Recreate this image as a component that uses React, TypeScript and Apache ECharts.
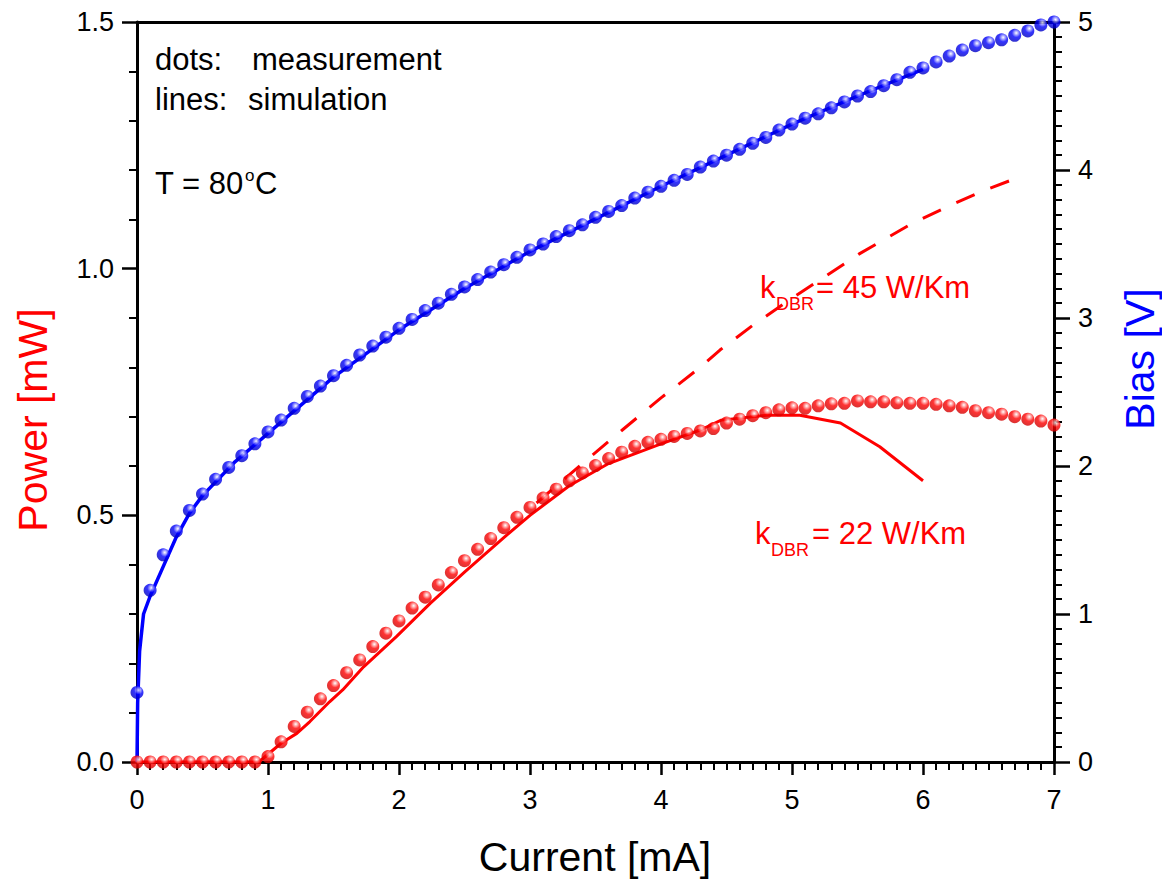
import React, { useEffect, useRef } from 'react';
import * as echarts from 'echarts';

const FONT = "'Liberation Sans', Arial, Helvetica, sans-serif";

// Current values of the measurement points [mA]
const measCurrent = [
  0.0, 0.1, 0.2, 0.3, 0.4, 0.5, 0.6, 0.7, 0.8, 0.9,
  1.0, 1.1, 1.2, 1.3, 1.4, 1.5, 1.6, 1.7, 1.8, 1.9,
  2.0, 2.1, 2.2, 2.3, 2.4, 2.5, 2.6, 2.7, 2.8, 2.9,
  3.0, 3.1, 3.2, 3.3, 3.4, 3.5, 3.6, 3.7, 3.8, 3.9,
  4.0, 4.1, 4.2, 4.3, 4.4, 4.5, 4.6, 4.7, 4.8, 4.9,
  5.0, 5.1, 5.2, 5.3, 5.4, 5.5, 5.6, 5.7, 5.8, 5.9,
  6.0, 6.1, 6.2, 6.3, 6.4, 6.5, 6.6, 6.7, 6.8, 6.9,
  7.0,
];

// Measured optical power [mW]
const measPower = [
  0, 0, 0, 0, 0, 0, 0, 0, 0, 0,
  0.011, 0.041, 0.072, 0.101, 0.128, 0.155, 0.181, 0.207, 0.234, 0.261,
  0.286, 0.312, 0.334, 0.359, 0.384, 0.408, 0.431, 0.453, 0.475, 0.496,
  0.516, 0.535, 0.553, 0.570, 0.586, 0.601, 0.615, 0.628, 0.640, 0.648,
  0.654, 0.660, 0.666, 0.671, 0.676, 0.687, 0.695, 0.702, 0.708, 0.714,
  0.718, 0.717, 0.722, 0.726, 0.727, 0.732, 0.730, 0.730, 0.728, 0.727,
  0.727, 0.725, 0.722, 0.719, 0.712, 0.708, 0.705, 0.700, 0.695, 0.691,
  0.683,
];

// Measured bias [V]
const measBias = [
  0.47, 1.16, 1.40, 1.56, 1.70, 1.81, 1.91, 1.99, 2.07, 2.15,
  2.23, 2.31, 2.39, 2.47, 2.54, 2.61, 2.68, 2.75, 2.81, 2.87,
  2.93, 2.99, 3.05, 3.10, 3.16, 3.21, 3.26, 3.31, 3.36, 3.41,
  3.46, 3.50, 3.55, 3.59, 3.63, 3.68, 3.72, 3.76, 3.81, 3.85,
  3.89, 3.93, 3.97, 4.02, 4.06, 4.10, 4.14, 4.18, 4.22, 4.27,
  4.31, 4.35, 4.38, 4.42, 4.46, 4.50, 4.53, 4.57, 4.61, 4.66,
  4.69, 4.73, 4.77, 4.81, 4.84, 4.86, 4.88, 4.91, 4.94, 4.98,
  5.00,
];

// Simulation, k_DBR = 22 W/Km (solid red)
const sim22Current = [0, 0.93, 1.1, 1.22, 1.32, 1.47, 1.57, 1.73, 1.98, 2.24, 2.5, 2.8, 3.0, 3.3, 3.6, 4.0, 4.3, 4.46, 4.81, 5.06, 5.37, 5.67, 6.0];
const sim22Power = [0, 0, 0.038, 0.058, 0.082, 0.122, 0.146, 0.193, 0.254, 0.322, 0.385, 0.455, 0.50, 0.56, 0.605, 0.645, 0.673, 0.693, 0.703, 0.703, 0.687, 0.639, 0.570];

// Simulation, k_DBR = 45 W/Km (dashed red)
const sim45Current = [3.05, 3.4, 3.7, 4.0, 4.3, 4.45, 4.7, 5.0, 5.52, 5.92, 6.19, 6.46, 6.69];
const sim45Power = [0.525, 0.605, 0.672, 0.738, 0.80, 0.835, 0.885, 0.94, 1.031, 1.092, 1.126, 1.158, 1.181];

// Simulated bias (solid blue)
const simBiasCurrent = [0, 0.005, 0.02, 0.05, 0.1, 0.2, 0.3, 0.4, 0.5, 0.75, 1.0, 1.5, 2.0, 2.5, 3.0, 3.5, 4.0, 4.5, 5.0, 5.5, 6.0];
const simBias = [0, 0.4, 0.75, 1.0, 1.12, 1.32, 1.52, 1.68, 1.80, 2.03, 2.22, 2.60, 2.92, 3.20, 3.45, 3.67, 3.89, 4.10, 4.31, 4.50, 4.68];

const xTicks = { min: 0, max: 7, interval: 1 };
const powerTicks = { min: 0, max: 1.5, interval: 0.5 };
const biasTicks = { min: 0, max: 5, interval: 1 };

const zip = (xs: number[], ys: number[]) => xs.map((x, i) => [x, ys[i]]);

const ball = (light: string, mid: string, dark: string) => ({
  type: 'radial',
  x: 0.62,
  y: 0.32,
  r: 0.75,
  colorStops: [
    { offset: 0, color: '#ffffff' },
    { offset: 0.18, color: light },
    { offset: 0.45, color: mid },
    { offset: 1, color: dark },
  ],
});

export default function App() {
  const ref = useRef<HTMLDivElement>(null);

  useEffect(() => {
    if (!ref.current) return;
    const chart = echarts.init(ref.current, null, { renderer: 'svg' });

    const axisLine = { show: true, onZero: false, lineStyle: { color: '#000', width: 3 } };
    const labelStyle = { color: '#000', fontSize: 27, fontFamily: FONT };

    const txt = (text: string, x: number, y: number, size: number, color = '#000', extra: any = {}) => ({
      type: 'text',
      x,
      y,
      z: 100,
      ...extra,
      style: {
        text,
        fill: color,
        fontSize: size,
        fontFamily: FONT,
        verticalAlign: 'middle',
        align: extra.align || 'left',
      },
    });

    const option: any = {
      animation: false,
      backgroundColor: '#ffffff',
      grid: { left: 137, right: 108, top: 22, bottom: 120, containLabel: false },
      xAxis: [
        {
          type: 'value',
          position: 'bottom',
          ...xTicks,
          axisLine,
          axisTick: { show: true, inside: false, length: 13, lineStyle: { color: '#000', width: 2.5 } },
          minorTick: { show: true, splitNumber: 10, length: 8, lineStyle: { color: '#000', width: 2 } },
          axisLabel: { ...labelStyle, margin: 24 },
          splitLine: { show: false },
          minorSplitLine: { show: false },
        },
        {
          type: 'value',
          position: 'top',
          ...xTicks,
          axisLine,
          axisTick: { show: false },
          axisLabel: { show: false },
          splitLine: { show: false },
        },
      ],
      yAxis: [
        {
          type: 'value',
          position: 'left',
          ...powerTicks,
          axisLine,
          axisTick: { show: true, inside: false, length: 15, lineStyle: { color: '#000', width: 2.5 } },
          minorTick: { show: true, splitNumber: 5, length: 8, lineStyle: { color: '#000', width: 2 } },
          axisLabel: { ...labelStyle, margin: 23, formatter: (v: number) => v.toFixed(1) },
          splitLine: { show: false },
          minorSplitLine: { show: false },
        },
        {
          type: 'value',
          position: 'right',
          ...biasTicks,
          axisLine,
          axisTick: { show: true, inside: false, length: 16, lineStyle: { color: '#000', width: 2.5 } },
          minorTick: { show: true, splitNumber: 10, length: 8, lineStyle: { color: '#000', width: 2 } },
          axisLabel: { ...labelStyle, margin: 24 },
          splitLine: { show: false },
          minorSplitLine: { show: false },
        },
      ],
      series: [
        {
          name: 'Bias simulation',
          type: 'line',
          yAxisIndex: 1,
          data: zip(simBiasCurrent, simBias),
          showSymbol: false,
          symbol: 'none',
          lineStyle: { color: '#0000ff', width: 3.5 },
          z: 2,
        },
        {
          name: 'k22 simulation',
          type: 'line',
          yAxisIndex: 0,
          data: zip(sim22Current, sim22Power),
          showSymbol: false,
          symbol: 'none',
          lineStyle: { color: '#ff0000', width: 3 },
          z: 2,
        },
        {
          name: 'k45 simulation',
          type: 'line',
          yAxisIndex: 0,
          data: zip(sim45Current, sim45Power),
          showSymbol: false,
          symbol: 'none',
          lineStyle: { color: '#ff0000', width: 3, type: [20, 17] },
          z: 2,
        },
        {
          name: 'Power measurement',
          type: 'scatter',
          yAxisIndex: 0,
          data: zip(measCurrent, measPower),
          symbol: 'circle',
          symbolSize: 13,
          itemStyle: { color: ball('#ff9a9a', '#ff0000', '#c80000') },
          z: 3,
        },
        {
          name: 'Bias measurement',
          type: 'scatter',
          yAxisIndex: 1,
          data: zip(measCurrent, measBias),
          symbol: 'circle',
          symbolSize: 13,
          itemStyle: { color: ball('#9a9aff', '#0000ff', '#0000b4') },
          z: 3,
        },
      ],
      graphic: [
        txt('dots:', 155, 59, 31),
        txt('measurement', 252, 59, 31),
        txt('lines:', 155, 99, 31),
        txt('simulation', 248, 99, 31),
        txt('T = 80', 155, 183, 31),
        txt('o', 245, 175, 17),
        txt('C', 255, 183, 31),
        txt('k', 760, 287, 31, '#ff0000'),
        txt('DBR', 776, 304, 18, '#ff0000'),
        txt('= 45 W/Km', 816, 287, 31, '#ff0000'),
        txt('k', 755, 533, 31, '#ff0000'),
        txt('DBR', 771, 550, 18, '#ff0000'),
        txt('= 22 W/Km', 812, 533, 31, '#ff0000'),
        txt('Current [mA]', 595, 857, 41, '#000', { align: 'center' }),
        txt('Power [mW]', 33, 420, 41, '#ff0000', { align: 'center', rotation: Math.PI / 2 }),
        txt('Bias [V]', 1140, 359, 41, '#0000ff', { align: 'center', rotation: Math.PI / 2 }),
      ],
    };

    chart.setOption(option);
    return () => chart.dispose();
  }, []);

  return (
    <div
      ref={ref}
      style={{ position: 'fixed', left: 0, top: 0, width: 1162, height: 882, background: '#fff' }}
    />
  );
}
